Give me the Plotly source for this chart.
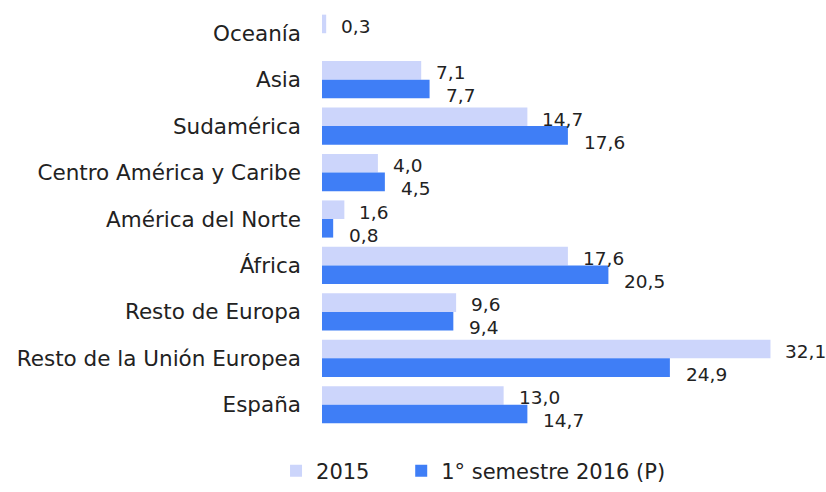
import plotly.graph_objects as go

categories = ["Oceanía", "Asia", "Sudamérica", "Centro América y Caribe", "América del Norte",
              "África", "Resto de Europa", "Resto de la Unión Europea", "España"]
values_2015 = [0.3, 7.1, 14.7, 4.0, 1.6, 17.6, 9.6, 32.1, 13.0]
values_2016 = [None, 7.7, 17.6, 4.5, 0.8, 20.5, 9.4, 24.9, 14.7]
series_names = ["2015", "1° semestre 2016 (P)"]

FONT = "DejaVu Sans"
TEXT = "#222222"
C15 = "#CCD5FB"
C16 = "#3F7EF6"

fig = go.Figure()
fig.add_trace(go.Bar(y=categories, x=values_2015, orientation="h", name=series_names[0],
                     marker=dict(color=C15, line=dict(width=0)), legend="legend"))
fig.add_trace(go.Bar(y=categories, x=values_2016, orientation="h", name=series_names[1],
                     marker=dict(color=C16, line=dict(width=0)), legend="legend2"))

def fmt(v):
    return f"{v:.1f}".replace(".", ",")

annotations = []
for cat, v in zip(categories, values_2015):
    if v is not None:
        annotations.append(dict(x=v, y=cat, xref="x", yref="y", text=fmt(v), showarrow=False,
                                xanchor="left", yanchor="middle", xshift=13, yshift=7,
                                font=dict(family=FONT, size=18.5, color=TEXT)))
for cat, v in zip(categories, values_2016):
    if v is not None:
        annotations.append(dict(x=v, y=cat, xref="x", yref="y", text=fmt(v), showarrow=False,
                                xanchor="left", yanchor="middle", xshift=14, yshift=-16,
                                font=dict(family=FONT, size=18.5, color=TEXT)))

legend_common = dict(orientation="h", y=-0.103, xanchor="left", yanchor="middle",
                     font=dict(family=FONT, size=21, color=TEXT), bgcolor="rgba(0,0,0,0)")

fig.update_layout(
    width=826, height=492,
    margin=dict(l=322, r=15, t=10, b=64, autoexpand=False),
    paper_bgcolor="white", plot_bgcolor="white",
    barmode="group", bargap=0.2, bargroupgap=0,
    font=dict(family=FONT, size=21, color=TEXT),
    xaxis=dict(range=[0, 35], visible=False, fixedrange=True),
    yaxis=dict(autorange="reversed", showgrid=False, showline=False, zeroline=False,
               ticks="", ticklabelstandoff=20, tickfont=dict(family=FONT, size=21.5, color=TEXT)),
    legend=dict(x=-0.094, **legend_common),
    legend2=dict(x=0.162, **legend_common),
    annotations=annotations,
    showlegend=True,
)

fig.write_html("out.html", config={"displayModeBar": False},
               post_script="document.body.style.margin='0';")
